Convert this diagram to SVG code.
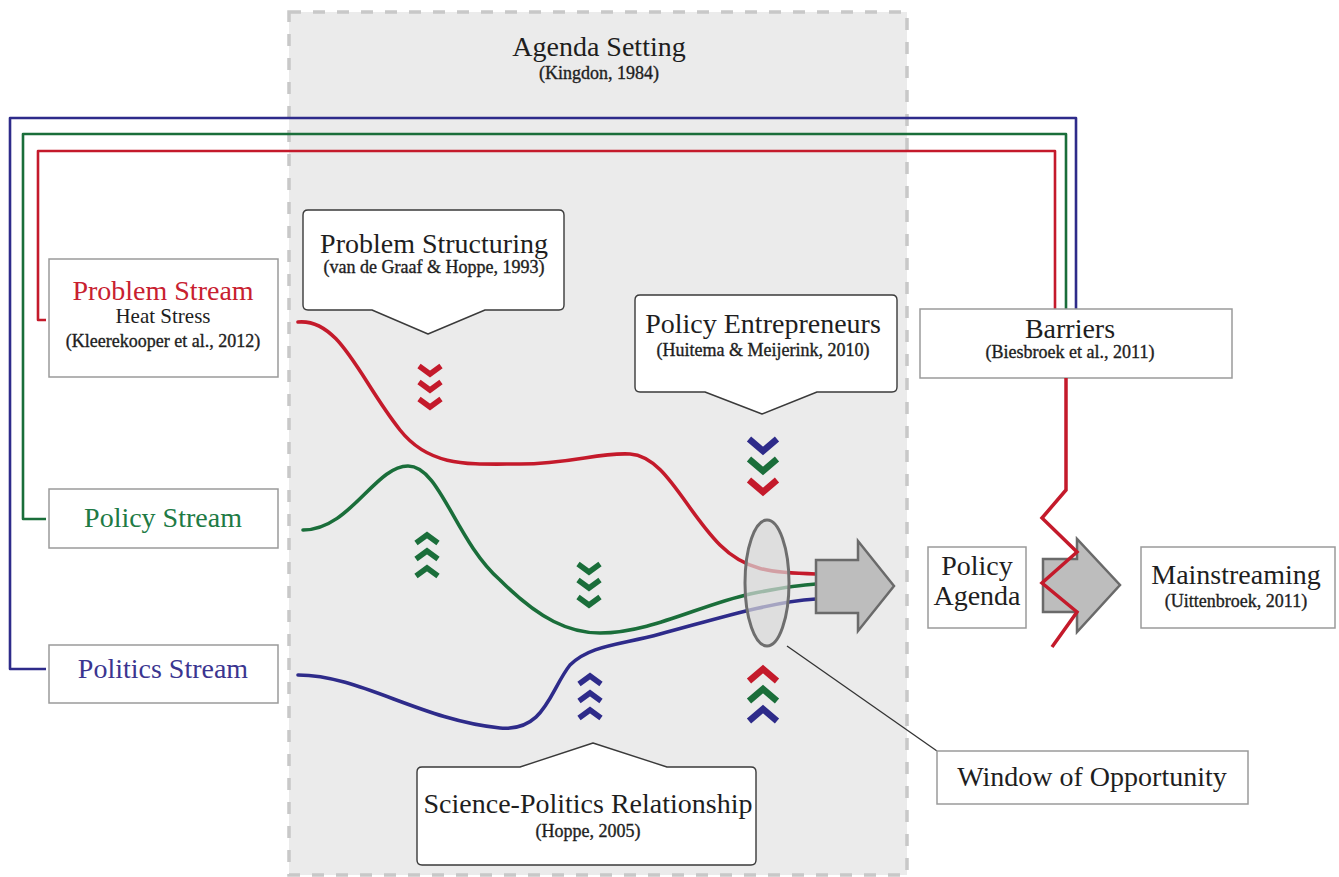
<svg xmlns="http://www.w3.org/2000/svg" xmlns:xlink="http://www.w3.org/1999/xlink" width="1339" height="877" viewBox="0 0 1339 877">
  <style>
    text { font-family: "Liberation Serif", "Times New Roman", serif; text-anchor: middle; fill: #1e1e1e; }
    .t { font-size: 28px; }
    .s { font-size: 18px; stroke: #1e1e1e; stroke-width: 0.35; }
    .m { font-size: 21px; }
    .box { fill: #fff; stroke: #9a9a9a; stroke-width: 1.5; }
    .callout { fill: #fff; stroke: #3a3a3a; stroke-width: 1.4; stroke-linejoin: round; }
    .link { fill: none; stroke-width: 2.6; stroke-linejoin: round; }
    .stream { fill: none; stroke-width: 3.6; stroke-linecap: round; }
    .chev { fill: none; stroke-width: 5.5; stroke-linejoin: miter; }
    .chevL { fill: none; stroke-width: 6.5; stroke-linejoin: miter; }
    .arrow { fill: #bdbdbd; stroke: #6a6a6a; stroke-width: 2.5; stroke-linejoin: miter; }
    .red { stroke: #c41a2b; }
    .green { stroke: #1a6e3a; }
    .blue { stroke: #2e2b8a; }
  </style>
  <defs>
    <path id="dn" d="M-11,-4 L0,4 L11,-4"/>
    <path id="up" d="M-11,4 L0,-4 L11,4"/>
    <path id="dnL" d="M-14,-6 L0,6 L14,-6"/>
    <path id="upL" d="M-14,6 L0,-6 L14,6"/>
  </defs>

  <rect width="1339" height="877" fill="#fff"/>

  <!-- agenda setting frame -->
  <g id="agenda-setting">
    <rect x="289" y="12" width="618" height="863" fill="#ebebeb" stroke="#c8c8c8" stroke-width="3.5" stroke-dasharray="12 12"/>
    <text class="t" x="599" y="56">Agenda Setting</text>
    <text class="s" x="599" y="79">(Kingdon, 1984)</text>
  </g>

  <!-- stream connectors to barriers -->
  <g id="connectors">
    <path class="link blue" d="M46,669 H10 V118 H1076 V309"/>
    <path class="link green" d="M46,519 H23 V134 H1066 V309"/>
    <path class="link red" d="M46,320 H38 V151 H1055 V309"/>
    <path class="stream red" d="M298,322 C340,318 360,380 400,430 C430,468 470,464 520,464 C570,464 600,452 630,454 C665,456 685,510 720,545 C745,570 770,573 816,574"/>
    <path class="stream green" d="M303,530 C350,530 375,466 408,466 C440,466 455,540 500,580 C540,620 570,633 600,633 C650,633 700,605 750,594 C780,588 800,585 816,584"/>
    <path class="stream blue" d="M298,675 C360,675 420,720 500,728 C545,732 550,690 570,665 C590,645 620,645 660,634 C720,618 770,602 816,599"/>
    <path d="M787,646 L937,751" fill="none" stroke="#333" stroke-width="1.3"/>
  </g>

  <!-- window of opportunity lens and arrows -->
  <g id="window-lens">
    <ellipse cx="767" cy="583" rx="22" ry="63" fill="#d8d8d8" fill-opacity="0.7" stroke="#6e6e6e" stroke-width="3"/>
  </g>
  <g id="arrow-agenda">
    <path class="arrow" d="M816,560 H858 V541 L894,586 L858,631 V613 H816 Z"/>
  </g>
  <g id="arrow-mainstreaming">
    <path class="arrow" d="M1043,559 H1077 V539 L1120,585 L1077,632 V612 H1043 Z"/>
  </g>

  <!-- influence chevrons -->
  <g id="chevrons">
    <use href="#dn" xlink:href="#dn" class="chev red" x="430" y="370"/>
    <use href="#dn" xlink:href="#dn" class="chev red" x="430" y="386"/>
    <use href="#dn" xlink:href="#dn" class="chev red" x="430" y="403"/>
    <use href="#up" xlink:href="#up" class="chev green" x="427" y="539"/>
    <use href="#up" xlink:href="#up" class="chev green" x="427" y="555"/>
    <use href="#up" xlink:href="#up" class="chev green" x="427" y="572"/>
    <use href="#dn" xlink:href="#dn" class="chev green" x="589" y="568"/>
    <use href="#dn" xlink:href="#dn" class="chev green" x="589" y="584"/>
    <use href="#dn" xlink:href="#dn" class="chev green" x="589" y="601"/>
    <use href="#up" xlink:href="#up" class="chev blue" x="590" y="680"/>
    <use href="#up" xlink:href="#up" class="chev blue" x="590" y="697"/>
    <use href="#up" xlink:href="#up" class="chev blue" x="590" y="714"/>
    <use href="#dnL" xlink:href="#dnL" class="chevL blue" x="763" y="445"/>
    <use href="#dnL" xlink:href="#dnL" class="chevL green" x="763" y="465"/>
    <use href="#dnL" xlink:href="#dnL" class="chevL red" x="763" y="486"/>
    <use href="#upL" xlink:href="#upL" class="chevL red" x="763" y="675"/>
    <use href="#upL" xlink:href="#upL" class="chevL green" x="763" y="695"/>
    <use href="#upL" xlink:href="#upL" class="chevL blue" x="763" y="715"/>
  </g>

  <!-- stream nodes -->
  <g id="problem-stream">
    <rect class="box" x="49" y="259" width="229" height="118"/>
    <text class="t" x="163" y="300" style="fill:#c8202f">Problem Stream</text>
    <text class="m" x="163" y="323">Heat Stress</text>
    <text class="s" x="163" y="347">(Kleerekooper et al., 2012)</text>
  </g>
  <g id="policy-stream">
    <rect class="box" x="49" y="489" width="229" height="59"/>
    <text class="t" x="163" y="527" style="fill:#207a44">Policy Stream</text>
  </g>
  <g id="politics-stream">
    <rect class="box" x="49" y="645" width="229" height="58"/>
    <text class="t" x="163" y="678" style="fill:#3b3590">Politics Stream</text>
  </g>

  <!-- callouts -->
  <g id="problem-structuring">
    <path class="callout" d="M308,210 H559 Q564,210 564,215 V305 Q564,310 559,310 H485 L428,334 L372,310 H308 Q303,310 303,305 V215 Q303,210 308,210 Z"/>
    <text class="t" x="434" y="253">Problem Structuring</text>
    <text class="s" x="434" y="273">(van de Graaf &amp; Hoppe, 1993)</text>
  </g>
  <g id="policy-entrepreneurs">
    <path class="callout" d="M640,295 H892 Q897,295 897,300 V387 Q897,392 892,392 H817 L762,414 L705,392 H640 Q635,392 635,387 V300 Q635,295 640,295 Z"/>
    <text class="t" x="763" y="333">Policy Entrepreneurs</text>
    <text class="s" x="763" y="356">(Huitema &amp; Meijerink, 2010)</text>
  </g>
  <g id="science-politics">
    <path class="callout" d="M422,767 H520 L593,743 L667,767 H751 Q756,767 756,772 V860 Q756,865 751,865 H422 Q417,865 417,860 V772 Q417,767 422,767 Z"/>
    <text class="t" x="588" y="813">Science-Politics Relationship</text>
    <text class="s" x="588" y="837">(Hoppe, 2005)</text>
  </g>

  <!-- right-hand nodes -->
  <g id="barriers">
    <rect class="box" x="920" y="309" width="312" height="69"/>
    <text class="t" x="1070" y="338">Barriers</text>
    <text class="s" x="1070" y="358">(Biesbroek et al., 2011)</text>
  </g>
  <g id="policy-agenda">
    <rect class="box" x="928" y="547" width="98" height="81"/>
    <text class="t" x="977" y="575">Policy</text>
    <text class="t" x="977" y="605">Agenda</text>
  </g>
  <g id="mainstreaming">
    <rect class="box" x="1141" y="547" width="194" height="81"/>
    <text class="t" x="1236" y="584">Mainstreaming</text>
    <text class="s" x="1236" y="607">(Uittenbroek, 2011)</text>
  </g>
  <g id="window-of-opportunity">
    <rect class="box" x="937" y="751" width="311" height="53"/>
    <text class="t" x="1092" y="786">Window of Opportunity</text>
  </g>

  <!-- barrier break line -->
  <g id="barrier-line">
    <path d="M1066,378 V490 L1042,518 L1077,552 L1042,583 L1077,612 L1052,647" fill="none" stroke="#c41a2b" stroke-width="3.5" stroke-linejoin="miter"/>
  </g>
</svg>
